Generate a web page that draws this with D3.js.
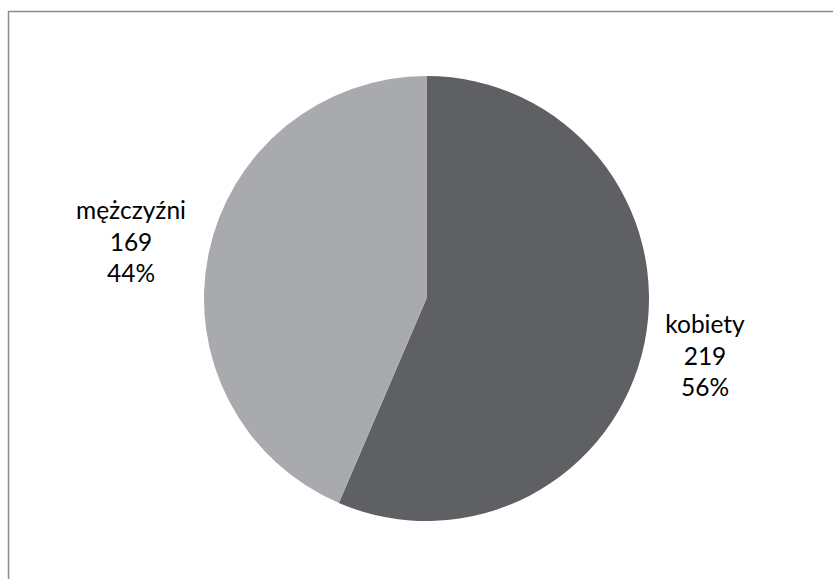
<!DOCTYPE html>
<html lang="pl">
<head>
<meta charset="utf-8">
<title>kobiety / mężczyźni</title>
<script src="https://cdn.jsdelivr.net/npm/d3@7"></script>
<style>
  body { margin: 0; background: #fff; }
  .lbl { font-family: Lato, "Open Sans", sans-serif; font-size: 24.5px; fill: #000; }
</style>
</head>
<body>
<div id="chart"></div>
<script>
var categories = ["kobiety", "mężczyźni"];
var values = [219, 169];
var colors = ["#5f6064", "#a9aaad"];

var width = 833, height = 579;
var cx = 426.5, cy = 298.5, radius = 222.5;

var svg = d3.select("#chart").append("svg")
    .attr("width", width)
    .attr("height", height);

// frame (only top and left edges visible)
svg.append("path")
    .attr("d", "M8.5," + height + "V11.5H" + width)
    .attr("fill", "none")
    .attr("stroke", "#8c8c8c")
    .attr("stroke-width", 1.5);

var data = categories.map(function(c, i) { return { name: c, value: values[i], color: colors[i] }; });
var total = d3.sum(values);

var pie = d3.pie().sort(null).value(function(d) { return d.value; });
var arc = d3.arc().innerRadius(0).outerRadius(radius);

var g = svg.append("g").attr("transform", "translate(" + cx + "," + cy + ")");

var arcs = pie(data);

g.selectAll("path.slice")
    .data(arcs)
  .enter().append("path")
    .attr("class", "slice")
    .attr("d", arc)
    .attr("fill", function(d) { return d.data.color; });

// label anchor (first baseline) relative to the pie centre
var labelPos = [[278.5, 34.5], [-295.5, -79.5]];

var labels = g.selectAll("text.lbl")
    .data(arcs)
  .enter().append("text")
    .attr("class", "lbl")
    .attr("text-anchor", "middle")
    .attr("transform", function(d, i) { return "translate(" + labelPos[i][0] + "," + labelPos[i][1] + ")"; });

labels.each(function(d) {
  var t = d3.select(this);
  var lines = [d.data.name, d.data.value, Math.round(d.data.value / total * 100) + "%"];
  lines.forEach(function(s, k) {
    t.append("tspan").attr("x", 0).attr("dy", k === 0 ? 0 : 31.7).text(s);
  });
});
</script>
</body>
</html>
